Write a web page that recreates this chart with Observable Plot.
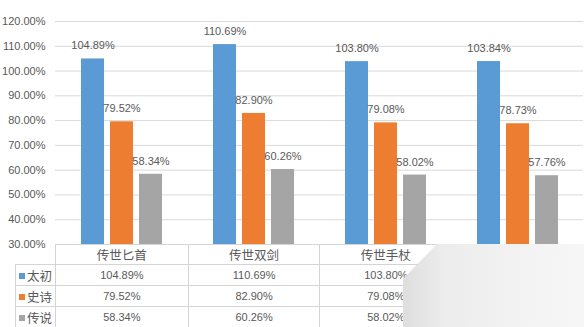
<!DOCTYPE html>
<html><head><meta charset="utf-8">
<script src="https://cdn.jsdelivr.net/npm/d3@7"></script>
<script src="https://cdn.jsdelivr.net/npm/@observablehq/plot@0.6"></script>
<style>
body{margin:0;background:#fff;}
#wrap{position:relative;width:584px;height:327px;overflow:hidden;color:#595959;font-family:"Liberation Sans","Noto Sans CJK SC",sans-serif;}
#wrap svg{position:absolute;left:0;top:0;overflow:visible;}
table{position:absolute;left:15px;top:244px;border-collapse:collapse;table-layout:fixed;font-size:11px;color:#595959;}
td{border:1px solid #d4d4d4;padding:0;text-align:center;white-space:nowrap;overflow:hidden;}
tr.h td{height:18px;font-family:"Noto Sans CJK SC",sans-serif;font-size:12.5px;}
tr.r td{height:20px;}
td.lg{text-align:left;font-family:"Noto Sans CJK SC",sans-serif;font-size:12.5px;padding-left:3px;}
td.lg span{display:inline-block;width:6px;height:6px;margin-right:2px;vertical-align:middle;position:relative;top:-1px;}
#glare{position:absolute;left:0;top:0;width:584px;height:327px;pointer-events:none;
 clip-path:polygon(437px 244px,584px 244px,584px 327px,403px 327px,403px 279px);
 background:linear-gradient(to right, #dedede 69%, #ececec 76%, #f3f3f3 90%, #f6f6f6 100%);}
</style></head><body><div id="wrap"></div>
<script>
const categories = ["传世匕首", "传世双剑", "传世手杖", ""];
const series = ["太初", "史诗", "传说"];
const taichu = [104.89, 110.69, 103.80, 103.84];
const shishi = [79.52, 82.90, 79.08, 78.73];
const chuanshuo = [58.34, 60.26, 58.02, 57.76];
const yTicks = [30, 40, 50, 60, 70, 80, 90, 100, 110, 120];
const colors = ["#5b9bd5", "#ed7d31", "#a5a5a5"];

const seriesValues = [taichu, shishi, chuanshuo];
const data = [];
categories.forEach((c, i) => series.forEach((s, j) => data.push({cat: c, series: s, value: seriesValues[j][i]})));
const fmt = v => v.toFixed(2) + "%";

const chart = Plot.plot({
  width: 584,
  height: 327,
  marginLeft: 55,
  marginRight: 1,
  marginTop: 21,
  marginBottom: 83,
  style: {fontFamily: "Liberation Sans, sans-serif", fontSize: "11px", color: "#595959", background: "transparent"},
  fx: {domain: categories, padding: 0, axis: null},
  x: {domain: series, paddingInner: 0.22, paddingOuter: 0.85, axis: null},
  y: {domain: [30, 120], ticks: yTicks, tickFormat: fmt, tickSize: 0, tickPadding: 10, label: null},
  color: {domain: series, range: colors},
  marks: [
    Plot.gridY(yTicks, {stroke: "#d9d9d9", strokeOpacity: 1}),
    Plot.barY(data, {fx: "cat", x: "series", y1: 30, y2: "value", fill: "series"}),
    Plot.text(data, {fx: "cat", x: "series", y: "value", text: d => fmt(d.value), dy: -13, fill: "#595959", fontSize: 11})
  ]
});
const wrap = document.getElementById("wrap");
wrap.appendChild(chart);

// data table
const table = document.createElement("table");
const colW = [40, 133, 132, 132, 132];
const cg = document.createElement("colgroup");
colW.forEach(w => { const c = document.createElement("col"); c.style.width = w + "px"; cg.appendChild(c); });
table.appendChild(cg);
const hr = document.createElement("tr"); hr.className = "h";
const h0 = document.createElement("td"); h0.style.borderTop = "none"; h0.style.borderLeft = "none"; hr.appendChild(h0);
categories.forEach(c => { const td = document.createElement("td"); td.textContent = c; hr.appendChild(td); });
table.appendChild(hr);
series.forEach((s, j) => {
  const tr = document.createElement("tr"); tr.className = "r";
  const lg = document.createElement("td"); lg.className = "lg";
  const sw = document.createElement("span"); sw.style.background = colors[j];
  lg.appendChild(sw); lg.appendChild(document.createTextNode(s)); tr.appendChild(lg);
  seriesValues[j].forEach(v => { const td = document.createElement("td"); td.textContent = fmt(v); tr.appendChild(td); });
  table.appendChild(tr);
});
wrap.appendChild(table);
const glare = document.createElement("div"); glare.id = "glare"; wrap.appendChild(glare);
</script></body></html>
